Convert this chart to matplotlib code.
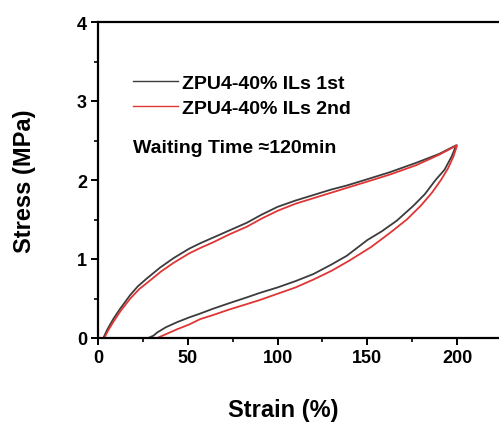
""" cyclic tensile loading-unloading curves """

import matplotlib.pyplot as plt
from matplotlib.ticker import MultipleLocator

plt.rcParams['font.family'] = ['Liberation Sans', 'DejaVu Sans']

# 1st cycle: loading then unloading (strain %, stress MPa)
strain_1st = [0, 3, 5, 8.5, 12, 17.8, 22, 27, 34.5, 42, 50.7, 57, 64, 73, 83, 91, 100,
              110, 120, 130, 138.5, 150, 162.7, 177.5, 190, 199.5,
              197, 193, 188, 182, 175.7, 166.4, 158, 150, 138.5, 130, 120, 110, 100,
              90, 83, 73, 64, 57, 50.7, 44, 37.7, 33, 30.9, 28, 0]
stress_1st = [0, 0, 0.10, 0.24, 0.36, 0.54, 0.65, 0.75, 0.89, 1.01, 1.13, 1.20, 1.27, 1.36,
              1.46, 1.56, 1.66, 1.74, 1.81, 1.88, 1.93, 2.01, 2.10, 2.22, 2.33, 2.44,
              2.30, 2.13, 2.00, 1.82, 1.675, 1.485, 1.35, 1.24, 1.04, 0.93, 0.81, 0.72,
              0.64, 0.57, 0.515, 0.44, 0.37, 0.31, 0.26, 0.20, 0.135, 0.07, 0.03, 0, 0]

# 2nd cycle
strain_2nd = [0, 3.5, 5.5, 9, 12.5, 18, 23, 28, 35, 42, 50.7, 57, 64, 73, 83, 91, 100,
              110, 120, 130, 138.5, 150, 162.7, 177.5, 190, 200,
              198, 195, 191, 186, 180, 172, 162, 152, 140, 130, 120, 110, 100, 90, 83,
              73, 64, 57, 50.7, 44, 38, 33, 0]
stress_2nd = [0, 0, 0.09, 0.22, 0.34, 0.50, 0.62, 0.71, 0.84, 0.95, 1.07, 1.14, 1.21, 1.31,
              1.41, 1.51, 1.61, 1.70, 1.77, 1.84, 1.90, 1.98, 2.07, 2.19, 2.32, 2.44,
              2.30, 2.15, 2.00, 1.84, 1.68, 1.50, 1.32, 1.15, 0.98, 0.85, 0.74, 0.64,
              0.56, 0.48, 0.43, 0.36, 0.29, 0.24, 0.17, 0.11, 0.05, 0, 0]

labels = ['ZPU4-40% ILs 1st', 'ZPU4-40% ILs 2nd']
colors = ['#3c3c3c', '#e03535']

fig = plt.figure(figsize=(4.99, 4.27), dpi=100)
ax = fig.add_axes([98 / 499, 88 / 427, 404 / 499, 316 / 427])

ax.plot(strain_1st, stress_1st, color=colors[0], lw=1.3, label=labels[0])
ax.plot(strain_2nd, stress_2nd, color=colors[1], lw=1.3, label=labels[1])

ax.set_xlim(0, 225)
ax.set_ylim(0, 4)
ax.set_xticks([0, 50, 100, 150, 200])
ax.xaxis.set_minor_locator(MultipleLocator(25))
ax.yaxis.set_major_locator(MultipleLocator(1))
ax.yaxis.set_minor_locator(MultipleLocator(0.5))

for side in ['left', 'bottom', 'top']:
    ax.spines[side].set_linewidth(1.6)
ax.spines['right'].set_visible(False)
ax.tick_params(which='major', direction='out', length=5, width=1.4, labelsize=13, pad=3)
ax.tick_params(which='minor', direction='out', length=3, width=1.2)
for lab in ax.get_xticklabels() + ax.get_yticklabels():
    lab.set_fontweight('bold')

leg = ax.legend(loc='upper left', bbox_to_anchor=(133 / 499, 1 - 75 / 427),
                bbox_transform=fig.transFigure, frameon=False,
                prop={'size': 14, 'weight': 'bold'},
                handlelength=2.3, handletextpad=0.2, labelspacing=0.4,
                borderpad=0, borderaxespad=0)
for line in leg.get_lines():
    line.set_linewidth(1.0)

fig.text(133 / 499, 1 - 149 / 427, 'Waiting Time \u2248120min', fontsize=14,
         fontweight='bold', ha='left', va='center')

fig.text(283 / 499, 1 - 411 / 427, 'Strain (%)', fontsize=17, fontweight='bold',
         ha='center', va='center')
fig.text(25 / 499, 1 - 181 / 427, 'Stress (MPa)', fontsize=17, fontweight='bold',
         ha='center', va='center', rotation=90)

fig.savefig('out.png', dpi=100)
